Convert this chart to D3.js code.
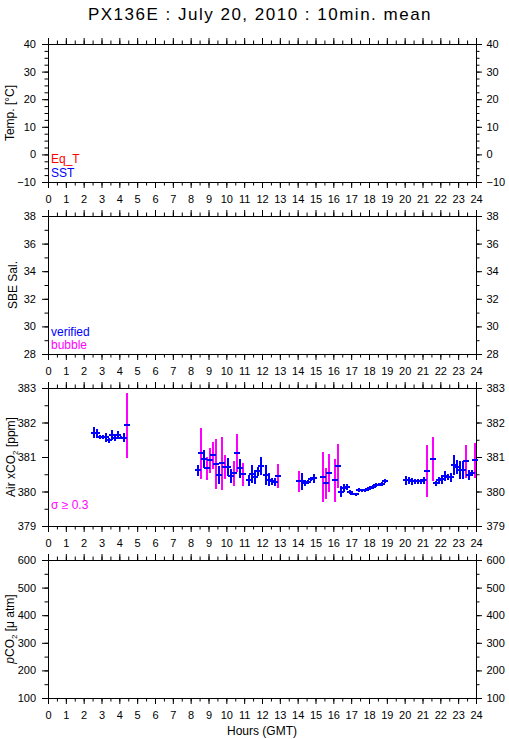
<!DOCTYPE html>
<html><head><meta charset="utf-8">
<script src="https://cdn.jsdelivr.net/npm/d3@7"></script>
<style>body{margin:0;background:#fff;} text{font-family:"Liberation Sans",Arial,sans-serif;}</style>
</head><body>
<script>
const titleText = "PX136E : July 20, 2010 : 10min. mean";
const hourLabels = [0,1,2,3,4,5,6,7,8,9,10,11,12,13,14,15,16,17,18,19,20,21,22,23,24];
const tempTicks = [-10,0,10,20,30,40];
const salTicks = [28,30,32,34,36,38];
const airTicks = [379,380,381,382,383];
const pco2Ticks = [100,200,300,400,500,600];

const hours = [2.583,2.750,2.917,3.083,3.250,3.417,3.583,3.750,3.917,4.083,4.250,4.417,
 8.417,8.583,8.750,8.917,9.083,9.250,9.417,9.583,9.750,9.917,10.083,10.250,10.417,10.583,10.750,10.917,
 11.250,11.417,11.583,11.750,11.917,12.250,12.417,12.583,12.750,12.917,
 14.083,14.250,14.417,14.583,14.750,14.917,15.417,15.583,15.750,16.083,16.250,16.417,16.583,16.750,16.917,
 17.083,17.250,17.417,17.583,17.750,17.917,18.083,18.250,18.417,18.583,18.750,18.917,
 20.083,20.250,20.417,20.583,20.750,20.917,21.083,21.250,21.583,21.750,21.917,22.083,22.250,22.417,22.583,
 22.750,22.917,23.083,23.250,23.417,23.583,23.750,23.917];
const xco2 = [381.71,381.69,381.58,381.57,381.57,381.48,381.64,381.56,381.64,381.56,381.56,381.92,
 380.61,381.11,380.94,380.67,380.90,381.05,380.79,380.48,380.82,380.71,380.71,380.45,380.53,381.11,380.67,380.50,
 380.32,380.50,380.42,380.59,380.74,380.48,380.34,380.29,380.27,380.45,
 380.29,380.29,380.24,380.27,380.35,380.38,380.42,380.24,380.53,380.32,380.74,380.00,380.10,380.13,379.98,
 379.93,379.92,380.04,380.04,380.04,380.06,380.11,380.14,380.20,380.20,380.22,380.30,
 380.32,380.32,380.30,380.29,380.29,380.29,380.32,380.59,380.94,380.24,380.32,380.35,380.45,380.42,380.41,
 380.77,380.71,380.62,380.62,380.88,380.48,380.53,380.90];
const xco2Sd = [0.15,0.13,0.07,0.06,0.14,0.07,0.15,0.11,0.11,0.05,0.13,0.94,
 0.15,0.74,0.26,0.33,0.37,0.39,0.72,0.25,0.77,0.36,0.25,0.21,0.36,0.55,0.28,0.33,
 0.16,0.26,0.20,0.13,0.26,0.29,0.19,0.10,0.11,0.36,
 0.31,0.25,0.08,0.05,0.06,0.14,0.72,0.45,0.55,0.63,0.64,0.17,0.11,0.10,0.06,
 0.04,0.05,0.05,0.04,0.04,0.05,0.05,0.06,0.06,0.05,0.05,0.06,
 0.13,0.11,0.10,0.08,0.08,0.08,0.10,0.75,0.63,0.07,0.10,0.12,0.14,0.10,0.14,
 0.28,0.20,0.25,0.26,0.48,0.15,0.09,0.50];
const sdThreshold = 0.3;

const W = 509, H = 739;
const svg = d3.select("body").append("svg").attr("width", W).attr("height", H);
const x = d3.scaleLinear([0, 24], [48, 476]);
const PH = 138;

svg.append("text").attr("x", 260).attr("y", 19.5).attr("text-anchor", "middle")
  .attr("font-size", 17).attr("letter-spacing", 1.5).text(titleText);

function panel(top, domain, majors, minorStep, labelFn, labelX) {
  const y = d3.scaleLinear(domain, [top + PH, top]);
  const g = svg.append("g");
  const minorsY = d3.range(domain[0], domain[1] + 1e-9, minorStep);
  const minorsX = d3.range(0, 24.001, 0.5);
  const fs = 11;
  g.append("g").attr("transform", `translate(0,${top + PH})`)
    .call(d3.axisBottom(x).tickValues(minorsX).tickSize(3.5).tickSizeOuter(0).tickFormat(""));
  g.append("g").attr("transform", `translate(0,${top + PH})`)
    .call(d3.axisBottom(x).tickValues(hourLabels).tickSize(6).tickSizeOuter(0).tickPadding(7.5));
  g.append("g").attr("transform", `translate(0,${top})`)
    .call(d3.axisTop(x).tickValues(minorsX).tickSize(3.5).tickSizeOuter(0).tickFormat(""));
  g.append("g").attr("transform", `translate(0,${top})`)
    .call(d3.axisTop(x).tickValues(hourLabels).tickSize(6).tickSizeOuter(0).tickFormat(""));
  g.append("g").attr("transform", `translate(48,0)`)
    .call(d3.axisLeft(y).tickValues(minorsY).tickSize(3.5).tickSizeOuter(0).tickFormat(""));
  g.append("g").attr("transform", `translate(48,0)`)
    .call(d3.axisLeft(y).tickValues(majors).tickSize(6).tickSizeOuter(0).tickPadding(6).tickFormat(d3.format("d")));
  g.append("g").attr("transform", `translate(476,0)`)
    .call(d3.axisRight(y).tickValues(minorsY).tickSize(3.5).tickSizeOuter(0).tickFormat(""));
  g.append("g").attr("transform", `translate(476,0)`)
    .call(d3.axisRight(y).tickValues(majors).tickSize(6).tickSizeOuter(0).tickPadding(4.5).tickFormat(d3.format("d")));
  g.selectAll(".tick text").attr("font-size", fs).attr("font-family", '"Liberation Sans",Arial,sans-serif').attr("fill", "#000");
  g.selectAll(".domain").attr("stroke", "#000");
  g.selectAll(".tick line").attr("stroke", "#000");
  const t = svg.append("text").attr("transform", `translate(${labelX},${top + PH / 2}) rotate(-90)`)
    .attr("text-anchor", "middle").attr("font-size", 12);
  labelFn(t);
  return y;
}

const tops = [44, 216, 388, 560];
panel(tops[0], [-10, 40], tempTicks, 2.5, t => t.text("Temp. [°C]"), 14);
panel(tops[1], [28, 38], salTicks, 1, t => t.text("SBE Sal."), 17);
const yAir = panel(tops[2], [379, 383], airTicks, 0.5, t => {
  t.append("tspan").text("Air xCO");
  t.append("tspan").attr("font-size", 8).attr("dy", 3).text("2");
  t.append("tspan").attr("dy", -3).text(" [ppm]");
}, 15);
panel(tops[3], [100, 600], pco2Ticks, 50, t => {
  t.append("tspan").attr("font-style", "italic").text("p");
  t.append("tspan").text("CO");
  t.append("tspan").attr("font-size", 8).attr("dy", 3).text("2");
  t.append("tspan").attr("dy", -3).text(" [μ atm]");
}, 14);

const leg = (xx, yy, col, txt) => svg.append("text").attr("x", xx).attr("y", yy).attr("fill", col).attr("font-size", 12).text(txt);
leg(51, 162.5, "#ff0000", "Eq_T");
leg(51, 176.7, "#0000ff", "SST");
leg(51, 336, "#0000ff", "verified");
leg(51, 349, "#ff00ff", "bubble");
leg(51, 508.5, "#ff00ff", "σ ≥ 0.3");

const data = hours.map((h, i) => ({h, v: xco2[i], s: xco2Sd[i]}));
const gm = svg.append("g").attr("shape-rendering", "crispEdges");
gm.selectAll("line.err").data(data).join("line").attr("class", "err")
  .attr("x1", d => Math.round(x(d.h))).attr("x2", d => Math.round(x(d.h)))
  .attr("y1", d => yAir(d.v + d.s)).attr("y2", d => yAir(d.v - d.s))
  .attr("stroke", d => d.s >= sdThreshold ? "#ff00ff" : "#0000ff").attr("stroke-width", 2);
gm.selectAll("line.mk").data(data).join("line").attr("class", "mk")
  .attr("x1", d => Math.round(x(d.h)) - 3).attr("x2", d => Math.round(x(d.h)) + 3)
  .attr("y1", d => yAir(d.v)).attr("y2", d => yAir(d.v))
  .attr("stroke", "#0000ff").attr("stroke-width", 2);

svg.append("text").attr("x", 262).attr("y", 735).attr("text-anchor", "middle").attr("font-size", 12).text("Hours (GMT)");
</script>
</body></html>
